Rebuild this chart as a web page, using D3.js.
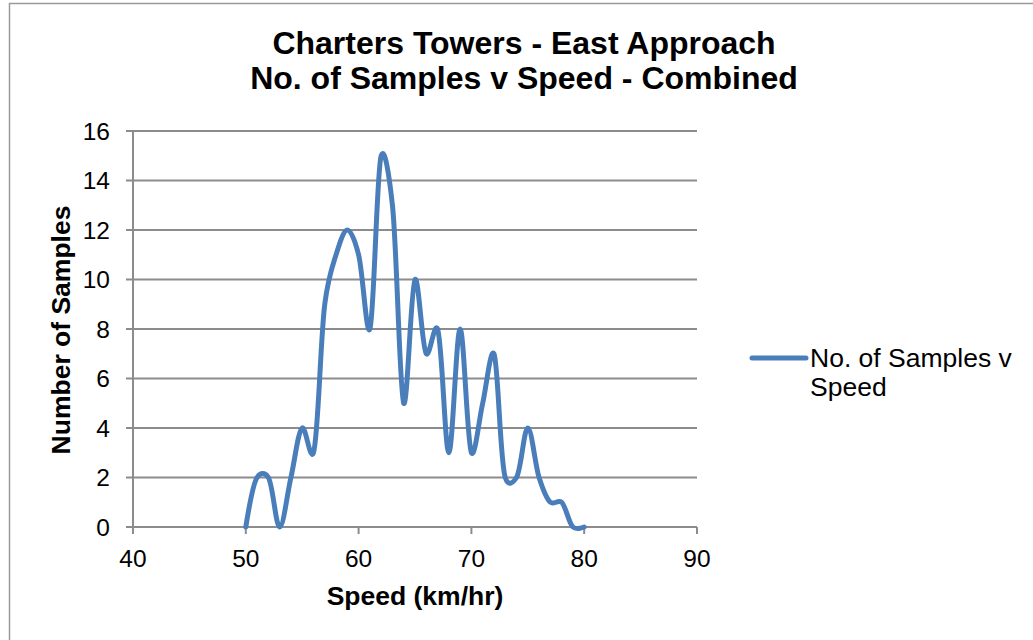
<!DOCTYPE html>
<html>
<head>
<meta charset="utf-8">
<script src="https://cdn.jsdelivr.net/npm/d3@7"></script>
<style>
  html, body { margin: 0; padding: 0; background: #fff; }
  svg { display: block; font-family: "Liberation Sans", Arial, sans-serif; }
</style>
</head>
<body>
<svg id="chart" width="1033" height="640"></svg>
<script>
const speeds = [50,51,52,53,54,55,56,57,58,59,60,61,62,63,64,65,66,67,68,69,70,71,72,73,74,75,76,77,78,79,80];
const samples = [0,2,2,0,2,4,3,9,11,12,11,8,15,13,5,10,7,8,3,8,3,5,7,2,2,4,2,1,1,0,0];
const xTicks = [40,50,60,70,80,90];
const yTicks = [0,2,4,6,8,10,12,14,16];
const titleLines = ["Charters Towers - East Approach", "No. of Samples v Speed - Combined"];
const xTitle = "Speed (km/hr)";
const yTitle = "Number of Samples";
const legendLines = ["No. of Samples v", "Speed"];

(function () {
const svg = d3.select("#chart");
const pL = 133, pR = 697, pT = 131, pB = 527;
const x = d3.scaleLinear().domain([40, 90]).range([pL, pR]);
const y = d3.scaleLinear().domain([0, 16]).range([pB, pT]);

// outer frame
svg.append("path")
  .attr("d", "M9.5,640 L9.5,3.5 L1040,3.5")
  .attr("fill", "none").attr("stroke", "#9a9a9a").attr("stroke-width", 1.5);

// title
svg.append("g").selectAll("text").data(titleLines).join("text")
  .attr("x", 524).attr("y", (d, i) => 54 + i * 35)
  .attr("text-anchor", "middle")
  .attr("font-size", 32).attr("font-weight", "bold").attr("fill", "#000")
  .text(d => d);

// gridlines
svg.append("g").selectAll("line").data(yTicks).join("line")
  .attr("x1", pL - 7).attr("x2", pR)
  .attr("y1", d => y(d)).attr("y2", d => y(d))
  .attr("stroke", "#8c8c8c").attr("stroke-width", 2);

// y axis line
svg.append("line").attr("x1", pL).attr("x2", pL).attr("y1", pT).attr("y2", pB)
  .attr("stroke", "#8c8c8c").attr("stroke-width", 2);

// x axis ticks
svg.append("g").selectAll("line").data(xTicks).join("line")
  .attr("x1", d => x(d)).attr("x2", d => x(d))
  .attr("y1", pB).attr("y2", pB + 7)
  .attr("stroke", "#8c8c8c").attr("stroke-width", 2);

// y tick labels
svg.append("g").selectAll("text").data(yTicks).join("text")
  .attr("x", 110).attr("y", d => y(d) + 8.5)
  .attr("text-anchor", "end").attr("font-size", 24.5).attr("fill", "#000")
  .text(d => d);

// x tick labels
svg.append("g").selectAll("text").data(xTicks).join("text")
  .attr("x", d => x(d)).attr("y", 567)
  .attr("text-anchor", "middle").attr("font-size", 24.5).attr("fill", "#000")
  .text(d => d);

// axis titles
svg.append("text").attr("x", 415).attr("y", 605)
  .attr("text-anchor", "middle").attr("font-size", 26.5).attr("font-weight", "bold")
  .text(xTitle);
svg.append("text")
  .attr("transform", "translate(70,330) rotate(-90)")
  .attr("text-anchor", "middle").attr("font-size", 26.5).attr("font-weight", "bold")
  .text(yTitle);

// series line
const line = d3.line()
  .x((d, i) => x(speeds[i]))
  .y(d => y(d))
  .curve(d3.curveCatmullRom.alpha(0.2));
svg.append("path").datum(samples)
  .attr("d", line)
  .attr("fill", "none").attr("stroke", "#4a7ebb").attr("stroke-width", 5)
  .attr("stroke-linecap", "round").attr("stroke-linejoin", "round");

// legend
svg.append("line").attr("x1", 752).attr("x2", 806).attr("y1", 358).attr("y2", 358)
  .attr("stroke", "#4a7ebb").attr("stroke-width", 5).attr("stroke-linecap", "round");
svg.append("g").selectAll("text").data(legendLines).join("text")
  .attr("x", 810).attr("y", (d, i) => 367 + i * 29)
  .attr("font-size", 26.5).attr("fill", "#000")
  .text(d => d);
})();
</script>
</body>
</html>
